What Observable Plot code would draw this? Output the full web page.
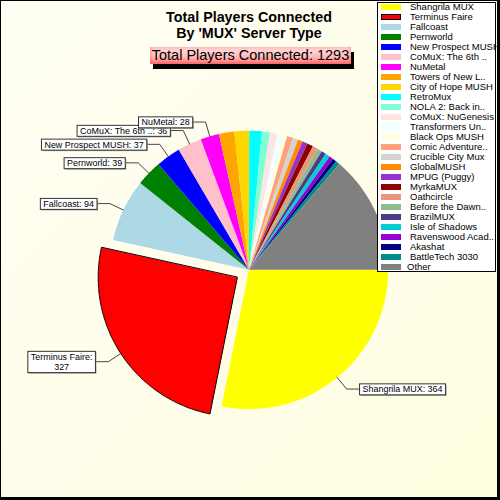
<!DOCTYPE html>
<html>
<head>
<meta charset="utf-8">
<script src="https://cdn.jsdelivr.net/npm/d3@7"></script>
<script src="https://cdn.jsdelivr.net/npm/@observablehq/plot@0.6"></script>
<style>
  body { margin: 0; }
  #wrap {
    position: relative; width: 500px; height: 500px; box-sizing: border-box;
    border-left: 1px solid #000; border-top: 1px solid #000;
    border-right: 3px solid #000; border-bottom: 3px solid #000;
    background: linear-gradient(135deg, #FFFFF4 0%, #FFFDE8 60%, #FFFFE0 100%);
    overflow: hidden; font-family: "Liberation Sans", Arial, sans-serif;
  }
  #chart { position: absolute; left: -1px; top: -1px; }
  #title {
    position: absolute; left: 0; top: 8px; width: 496px; text-align: center;
    font-weight: bold; font-size: 14.3px; line-height: 16px; color: #000;
  }
  #subtitle {
    position: absolute; left: 149px; top: 46px; width: 201px; height: 17px;
    text-align: center; font-size: 14.5px; line-height: 17px; color: #000;
    background: linear-gradient(180deg, #FFE6E6 0%, #FFBCBC 55%, #FF7878 100%);
    box-shadow: inset 0 0 4px rgba(255,40,40,0.55), 3px 5px 0 #000;
  }
  #legend {
    position: absolute; left: 376px; top: 1px; width: 119px; height: 270px;
    box-sizing: border-box; border: 1px solid #000; background: #fff;
  }
  .lrow { position: absolute; left: 0; width: 117px; height: 10px; }
  .lsw { position: absolute; left: 3px; top: 2px; width: 20px; height: 6px; box-sizing: border-box; }
  .ltx { position: absolute; left: 32px; top: -1px; font-size: 9.5px; line-height: 12px; color: #000; white-space: nowrap; }
</style>
</head>
<body>
<div id="wrap">
  <div id="chart"></div>
  <div id="title"></div>
  <div id="subtitle"></div>
  <div id="legend"></div>
</div>
<script>
// ---- data ----
const names = ["Shangrila MUX","Terminus Faire","Fallcoast","Pernworld","New Prospect MUSH","CoMuX: The 6th ..","NuMetal","Towers of New L..","City of Hope MUSH","RetroMux","NOLA 2: Back in..","CoMuX: NuGenesis","Transformers Un..","Black Ops MUSH","Comic Adventure..","Crucible City Mux","GlobalMUSH","MPUG (Puggy)","MyrkaMUX","Oathcircle","Before the Dawn..","BrazilMUX","Isle of Shadows","Ravenswood Acad..","Akashat","BattleTech 3030","Other"];
const players = [364,327,94,39,37,36,28,23,22,19,12,11,8,7,9,8,7,8,9,8,7,7,7,6,6,6,178];
const colors = ["yellow","red","lightblue","green","blue","pink","magenta","orange","gold","cyan","aquamarine","mistyrose","azure","lightyellow","lightsalmon","lightgray","darkorange","darkorchid","darkred","darksalmon","darkseagreen","darkslateblue","darkturquoise","darkviolet","navy","darkcyan","gray"];
const labeledCount = 7;           // slices that get a callout label
const explodedName = "Terminus Faire";
const titleLines = ["Total Players Connected", "By 'MUX' Server Type"];
const subtitlePrefix = "Total Players Connected: ";

// ---- layout ----
const W = 500, H = 500, CX = 250, CY = 271, R = 140, EXPLODE = 14, LEAD = 15, HOOK = 13;

const total = d3.sum(players);
document.getElementById("title").innerHTML = titleLines.join("<br>");
document.getElementById("subtitle").textContent = subtitlePrefix + total;

// pie geometry (angles clockwise from east, screen coordinates)
let acc = 0;
const slices = players.map((v, i) => {
  const a0 = acc / total * 2 * Math.PI; acc += v;
  const a1 = acc / total * 2 * Math.PI;
  const mid = (a0 + a1) / 2;
  const ex = names[i] === explodedName ? EXPLODE : 0;
  return {name: names[i], value: v, i, a0, a1, mid,
          cx: CX + ex * Math.cos(mid), cy: CY + ex * Math.sin(mid)};
});

const pts = [];
for (const s of slices) {
  pts.push({name: s.name, x: s.cx, y: s.cy});
  const n = Math.max(2, Math.ceil((s.a1 - s.a0) / (Math.PI / 360)));
  for (let k = 0; k <= n; k++) {
    const a = s.a0 + (s.a1 - s.a0) * k / n;
    pts.push({name: s.name, x: s.cx + R * Math.cos(a), y: s.cy + R * Math.sin(a)});
  }
}

const leaders = [], labels = [];
for (const s of slices.slice(0, labeledCount)) {
  const ux = Math.cos(s.mid), uy = Math.sin(s.mid);
  const p0 = [s.cx + R * ux, s.cy + R * uy];
  const p1 = [s.cx + (R + LEAD) * ux, s.cy + (R + LEAD) * uy];
  const side = ux >= 0 ? 1 : -1;
  const p2 = [p1[0] + side * HOOK, p1[1]];
  leaders.push({id: s.name, x: p0[0], y: p0[1]}, {id: s.name, x: p1[0], y: p1[1]}, {id: s.name, x: p2[0], y: p2[1]});
  const text = s.name === explodedName ? `${s.name}:\n${s.value}` : `${s.name}: ${s.value}`;
  labels.push({name: s.name, x: p2[0] + side * 3, y: p2[1], side, text});
}

const textOpts = {x: "x", y: "y", text: "text", lineAnchor: "middle", fontSize: 9, lineHeight: 1.15, fill: "black", fontFamily: "Liberation Sans, Arial, sans-serif"};
const chart = Plot.plot({
  width: W, height: H, margin: 0,
  x: {domain: [0, W], axis: null},
  y: {domain: [H, 0], axis: null},
  color: {domain: names, range: colors},
  style: {background: "transparent", overflow: "visible"},
  marks: [
    Plot.line(pts, {x: "x", y: "y", z: "name", fill: "name", stroke: "none", curve: "linear-closed"}),
    Plot.line(pts, {filter: d => d.name === explodedName, x: "x", y: "y", z: "name", fill: "none", stroke: "black", strokeWidth: 1, curve: "linear-closed"}),
    Plot.line(leaders, {x: "x", y: "y", z: "id", stroke: "#444", strokeWidth: 1}),
    Plot.text(labels.filter(d => d.side < 0), {...textOpts, textAnchor: "end"}),
    Plot.text(labels.filter(d => d.side > 0), {...textOpts, textAnchor: "start"})
  ]
});
document.getElementById("chart").appendChild(chart);

// boxes behind the callout labels
const NS = "http://www.w3.org/2000/svg";
Array.from(chart.querySelectorAll("text")).forEach(t => {
  const b = t.getBBox();
  if (t.querySelectorAll("tspan").length > 1) {
    t.setAttribute("text-anchor", "middle");
    const tr = t.getAttribute("transform") || "";
    t.setAttribute("transform", (tr + ` translate(${-b.width / 2},0)`).trim());
  }
  const mk = (dx, dy, fill, stroke) => {
    const r = document.createElementNS(NS, "rect");
    r.setAttribute("x", b.x - 3 + dx); r.setAttribute("y", b.y - 0.5 + dy);
    r.setAttribute("width", b.width + 6); r.setAttribute("height", b.height + 1);
    r.setAttribute("fill", fill); r.setAttribute("stroke", stroke); r.setAttribute("stroke-width", 1);
    if (t.getAttribute("transform")) r.setAttribute("transform", t.getAttribute("transform").replace(/ translate\([^)]*,0\)$/, ""));
    return r;
  };
  const g = t.parentNode;
  g.insertBefore(mk(1, 1, "#999", "none"), t);
  g.insertBefore(mk(0, 0, "#fff", "#333"), t);
});

// legend
const leg = document.getElementById("legend");
names.forEach((n, i) => {
  const row = document.createElement("div");
  row.className = "lrow"; row.style.top = (10 * i - 1) + "px";
  const sw = document.createElement("div");
  sw.className = "lsw"; sw.style.background = colors[i];
  if (n === explodedName) sw.style.border = "1px solid #000";
  const tx = document.createElement("div");
  tx.className = "ltx"; tx.textContent = n;
  if (n === "Other") tx.style.left = "29px";
  row.appendChild(sw); row.appendChild(tx); leg.appendChild(row);
});
</script>
</body>
</html>
